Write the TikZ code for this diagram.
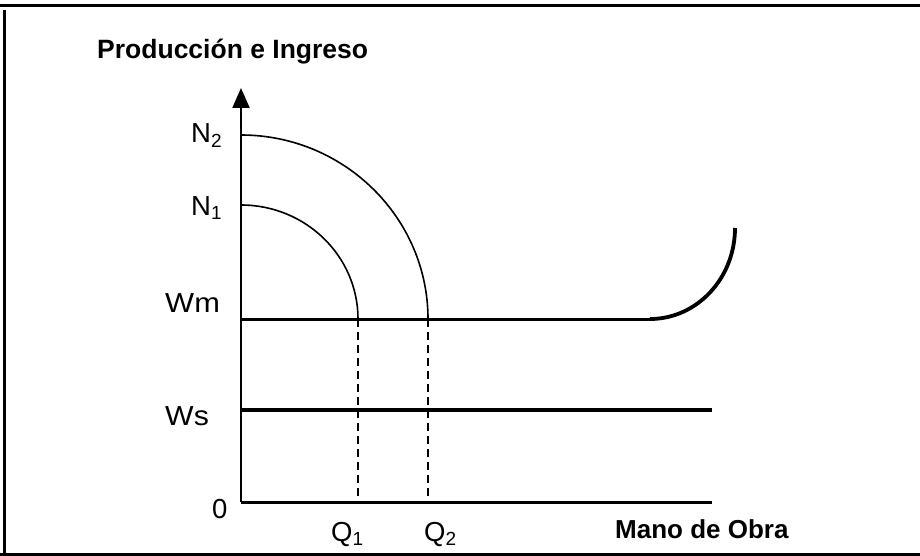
\documentclass[tikz,border=0pt]{standalone}
\usepackage{fontspec}
\setmainfont{Liberation Sans}
\usetikzlibrary{arrows.meta}
\newcommand{\lblfont}{\fontsize{27.5}{32}\selectfont}
\newcommand{\sbs}[1]{\raisebox{-4.5pt}{\fontsize{19}{19}\selectfont #1}}
\newcommand{\ttlfont}{\fontsize{26.5}{30}\selectfont\bfseries}
\newcommand{\xfont}{\fontsize{26}{30}\selectfont\bfseries}
\tikzset{
  frameline/.style={line width=3pt},
  axisline/.style={line width=2.2pt},
  prodcurve/.style={line width=1.6pt},
  guide/.style={line width=1.6pt, dash pattern=on 8pt off 5pt},
  wageline/.style={line width=3pt},
  wagecurve/.style={line width=3.8pt},
  supplyline/.style={line width=4.2pt},
  lab/.style={inner sep=0pt, anchor=base west, font=\lblfont},
  boldlab/.style={inner sep=0pt, anchor=base west, font=\ttlfont},
  xlabstyle/.style={inner sep=0pt, anchor=base west, font=\xfont},
}
\begin{document}
\begin{tikzpicture}[x=1pt,y=-1pt]
\useasboundingbox (0,0) rectangle (920,556);
\fill[white] (0,0) rectangle (920,556);
% frame
\draw[frameline] (0,6) -- (920,6);
\draw[frameline] (4,10) -- (4,556);
\draw[frameline] (0,554.5) -- (920,554.5);
% coordinates
\coordinate (O) at (241,502);
\coordinate (Ytop) at (241,88);
\coordinate (Xend) at (712,502);
\coordinate (N2) at (241,135);
\coordinate (N1) at (241,205);
\coordinate (Q1m) at (358,319);
\coordinate (Q2m) at (428,319);
\coordinate (Q1b) at (358,502);
\coordinate (Q2b) at (428,502);
\coordinate (Wm0) at (241,319);
\coordinate (Wmk) at (650,319);
\coordinate (Wmt) at (735,228);
\coordinate (Ws0) at (241,410);
\coordinate (Ws1) at (712,410);
% axes
\draw[axisline, -{Triangle[length=20pt,width=17pt]}] (O) -- (Ytop);
\draw[wageline] (O) -- (Xend);
% production curves
\draw[prodcurve] (N2) .. controls (344.3,135) and (428,217.9) .. (Q2m);
\draw[prodcurve] (N1) .. controls (305.6,205) and (358,256.0) .. (Q1m);
% wage lines
\draw[wageline] (Wm0) -- (Wmk);
\draw[wagecurve] (Wmk) .. controls (696.9,319) and (735,278.3) .. (Wmt);
\draw[supplyline] (Ws0) -- (Ws1);
% guides
\draw[guide] (Q1m) -- (Q1b);
\draw[guide] (Q2m) -- (Q2b);
% labels
\node[boldlab] (title) at (97,59) {Producción e Ingreso};
\node[lab] (lN2) at (191,143) {N\sbs{2}};
\node[lab] (lN1) at (191,215) {N\sbs{1}};
\node[lab] (lWm) at (165,312) {\scalebox{1.12}[1]{Wm}};
\node[lab] (lWs) at (165,425) {\scalebox{1.1}[1]{Ws}};
\node[lab] (l0) at (212,518) {0};
\node[lab] (lQ1) at (331,541) {Q\sbs{1}};
\node[lab] (lQ2) at (424,541) {Q\sbs{2}};
\node[xlabstyle] (xlab) at (615,538) {Mano de Obra};
\end{tikzpicture}
\end{document}
